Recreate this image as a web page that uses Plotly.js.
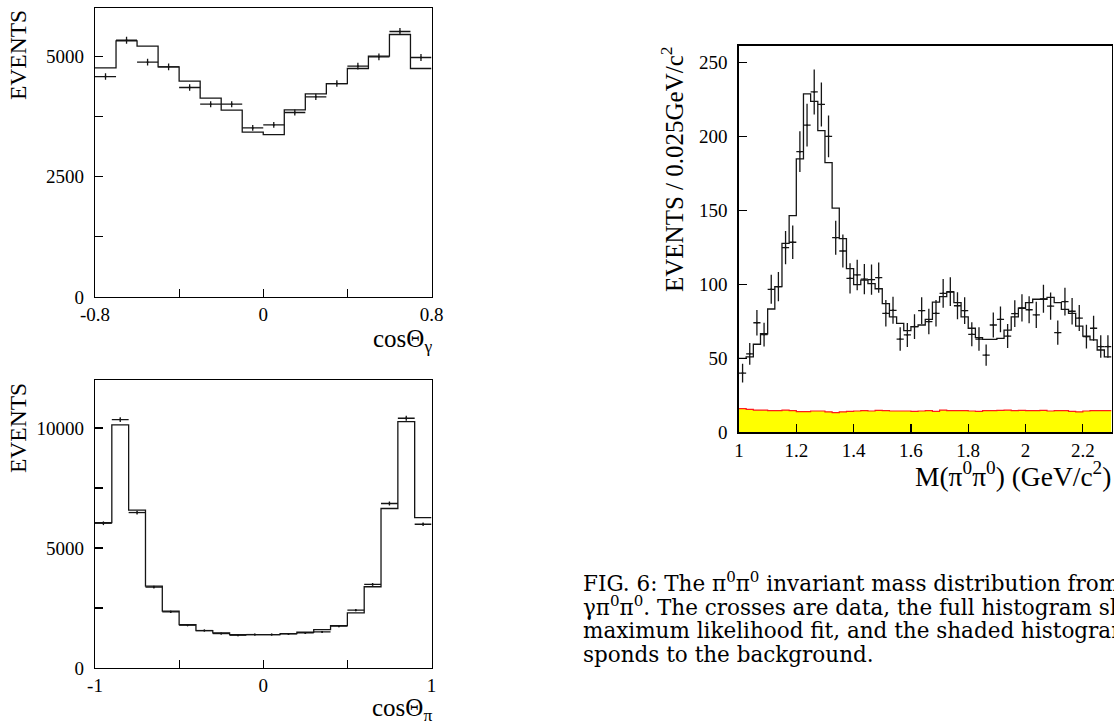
<!DOCTYPE html>
<html>
<head>
<meta charset="utf-8">
<script src="https://cdn.plot.ly/plotly-3.0.1.min.js"></script>
<style>
  html, body { margin: 0; padding: 0; background: #fff; overflow: hidden; }
  #chart { width: 1114px; height: 725px; }
</style>
</head>
<body>
<div id="chart"></div>
<script>
// ---------- Panel 1: cos(theta_gamma), 16 bins of 0.1 from -0.8 ----------
const cosGammaLo = -0.8;
const cosGammaBin = 0.1;
const cosGammaFit  = [4757, 5318, 5208, 4778, 4480, 4127, 3878, 3421, 3372, 3885, 4217, 4432, 4744, 5000, 5450, 4744];
const cosGammaData = [4577, 5330, 4875, 4778, 4349, 4003, 4003, 3511, 3573, 3830, 4155, 4432, 4792, 4986, 5512, 4972];
const cosGammaErr  = [68, 73, 70, 69, 66, 63, 63, 59, 60, 62, 64, 67, 69, 71, 74, 71];
const cosGammaTickVals = [-0.8, -0.4, 0, 0.4, 0.8];
const cosGammaTickText = ['-0.8', '', '0', '', '0.8'];
const cosGammaYTickVals = [0, 1250, 2500, 3750, 5000];
const cosGammaYTickText = ['0', '', '2500', '', '5000'];

// ---------- Panel 2: cos(theta_pi), 20 bins of 0.1 from -1 ----------
const cosPiLo = -1;
const cosPiBin = 0.1;
const cosPiFit  = [6059, 10127, 6575, 3413, 2368, 1811, 1560, 1463, 1393, 1393, 1393, 1435, 1490, 1602, 1769, 2298, 3385, 6645, 10266, 6269];
const cosPiData = [6031, 10350, 6477, 3371, 2340, 1783, 1560, 1435, 1365, 1393, 1393, 1421, 1463, 1504, 1741, 2410, 3483, 6854, 10406, 5990];
const cosPiErr  = [78, 102, 80, 58, 48, 42, 39, 38, 37, 37, 37, 38, 38, 39, 42, 49, 59, 83, 102, 77];
const cosPiTickVals = [-1, -0.5, 0, 0.5, 1];
const cosPiTickText = ['-1', '', '0', '', '1'];
const cosPiYTickVals = [0, 2500, 5000, 7500, 10000];
const cosPiYTickText = ['0', '', '5000', '', '10000'];

// ---------- Panel 3: M(pi0 pi0), 52 bins of 0.025 GeV from 1.0 ----------
const massLo = 1.0;
const massBin = 0.025;
const massFit = [50, 51, 59.5, 66.6, 83.3, 98.4, 127.7, 146.4, 184.7, 228.6, 223.6, 203.8, 182.2, 151.5, 130.8, 110.6, 99.8, 102.8, 100.4, 97,
                 87, 78, 73.6, 68.7, 71.4, 72.5, 76.3, 88, 91.6, 94.8, 87.6, 78, 70.3, 64, 62.8, 62.8, 63.5, 69, 78, 83.8,
                 87.6, 89.9, 89.9, 91.2, 87.6, 83, 80.4, 71.8, 65, 62.4, 55.6, 51];
const massData = [40, 53, 74, 66, 96.6, 98.4, 124.8, 128.4, 189.6, 207.5, 230, 221.5, 200, 131.5, 122.5, 104, 106.3, 103.5, 103.2, 104.5,
                  80.4, 82.4, 63, 65.8, 71.4, 82.2, 74.8, 80.4, 93.9, 95, 85.5, 82.2, 66.2, 63, 52.2, 72.5, 76.3, 65, 80.2, 84,
                  82.8, 79.3, 90.2, 85.3, 67.3, 88.3, 81.8, 77.2, 64.6, 70.3, 57.9, 57.9];
const massErr = [6.3, 7.3, 8.6, 8.1, 9.8, 9.9, 11.2, 11.3, 13.8, 14.4, 15.2, 14.9, 14.1, 11.5, 11.1, 10.2, 10.3, 10.2, 10.2, 10.2,
                 9, 9.1, 7.9, 8.1, 8.4, 9.1, 8.6, 9, 9.7, 9.7, 9.2, 9.1, 8.1, 7.9, 7.2, 8.5, 8.7, 8.1, 9, 9.2,
                 9.1, 8.9, 9.5, 9.2, 8.2, 9.4, 9, 8.8, 8, 8.4, 7.6, 7.6];
const massBkg = [16, 15.5, 15, 15, 14.6, 14.6, 15, 14.6, 14, 14, 14.4, 14.4, 13.8, 13.3, 13.8, 14.2, 14.4, 14.6, 14.4, 14.8,
                 14.6, 14.4, 14.4, 14.4, 14.2, 14.4, 14.6, 14.2, 15, 14.6, 14.6, 14.6, 14.4, 14.2, 14.6, 14.6, 14.8, 15, 14.6, 14.8,
                 14.6, 14.6, 14.8, 14.4, 14.6, 14.6, 14.2, 13.8, 14.4, 14.6, 14.6, 14.6];

// ---------- Caption ----------
const captionLines = [
  'FIG. 6: The π<sup>0</sup>π<sup>0</sup> invariant mass distribution from',
  'γπ<sup>0</sup>π<sup>0</sup>. The crosses are data, the full histogram shows the',
  'maximum likelihood fit, and the shaded histogram corre-',
  'sponds to the background.'
];

// ---------- helpers ----------
function binEdges(lo, w, n) { return Array.from({length: n + 1}, (_, i) => +(lo + w * i).toFixed(5)); }
function binCenters(lo, w, n) { return Array.from({length: n}, (_, i) => +(lo + w * (i + 0.5)).toFixed(5)); }
const INK = '#151515';

function stepTrace(lo, w, vals, xa, ya, extra) {
  const t = {
    type: 'scatter', mode: 'lines', xaxis: xa, yaxis: ya,
    x: binEdges(lo, w, vals.length), y: vals.concat([vals[vals.length - 1]]),
    line: {shape: 'hv', color: INK, width: 1.3}, hoverinfo: 'skip'
  };
  return Object.assign(t, extra || {});
}
function crossTrace(lo, w, vals, errs, xa, ya) {
  return {
    type: 'scatter', mode: 'markers', xaxis: xa, yaxis: ya,
    x: binCenters(lo, w, vals.length), y: vals,
    marker: {size: 2, color: INK},
    error_x: {type: 'constant', value: w / 2, width: 0, thickness: 1.3, color: INK},
    error_y: {type: 'data', array: errs, visible: true, width: 0, thickness: 1.3, color: INK},
    hoverinfo: 'skip'
  };
}

const traces = [
  stepTrace(cosGammaLo, cosGammaBin, cosGammaFit, 'x', 'y'),
  crossTrace(cosGammaLo, cosGammaBin, cosGammaData, cosGammaErr, 'x', 'y'),
  stepTrace(cosPiLo, cosPiBin, cosPiFit, 'x2', 'y2'),
  crossTrace(cosPiLo, cosPiBin, cosPiData, cosPiErr, 'x2', 'y2'),
  stepTrace(massLo, massBin, massBkg, 'x3', 'y3', {fill: 'tozeroy', fillcolor: '#ffff00', line: {shape: 'hv', color: '#ff1a1a', width: 1.2}}),
  stepTrace(massLo, massBin, massFit, 'x3', 'y3'),
  crossTrace(massLo, massBin, massData, massErr, 'x3', 'y3')
];

const W = 1114, H = 725;
const px = v => v / W;
const py = v => 1 - v / H;
const SERIF = 'Liberation Serif, Times New Roman, serif';
const tickFont = {family: SERIF, size: 19, color: '#000'};
const evFont = {family: SERIF, size: 23.5, color: '#000'};
const titleFont = {family: SERIF, size: 25, color: '#000'};
const capFont = {family: 'DejaVu Serif, serif', size: 21.5, color: '#000'};

function axis(extra) {
  return Object.assign({
    showline: true, linecolor: '#000', linewidth: 1.2, mirror: true,
    ticks: 'inside', ticklen: 8, tickwidth: 1.2, tickcolor: '#000',
    showgrid: false, zeroline: false, tickfont: tickFont, fixedrange: true
  }, extra);
}

const layout = {
  width: W, height: H,
  margin: {l: 0, r: 0, t: 0, b: 0},
  paper_bgcolor: '#fff', plot_bgcolor: '#fff',
  showlegend: false,
  xaxis:  axis({domain: [px(95), px(431.5)], range: [cosGammaLo, 0.8], anchor: 'y', tickmode: 'array', tickvals: cosGammaTickVals, ticktext: cosGammaTickText}),
  yaxis:  axis({domain: [py(297), py(8)], range: [0, 6000], anchor: 'x', tickmode: 'array', tickvals: cosGammaYTickVals, ticktext: cosGammaYTickText, ticklabelstandoff: 6}),
  xaxis2: axis({domain: [px(95), px(431.5)], range: [cosPiLo, 1], anchor: 'y2', tickmode: 'array', tickvals: cosPiTickVals, ticktext: cosPiTickText}),
  yaxis2: axis({domain: [py(668), py(380)], range: [0, 12000], anchor: 'x2', tickmode: 'array', tickvals: cosPiYTickVals, ticktext: cosPiYTickText, ticklabelstandoff: 6}),
  xaxis3: axis({domain: [px(739), px(1111.5)], range: [massLo, 2.3], anchor: 'y3', tickmode: 'linear', tick0: 1, dtick: 0.2, linewidth: 1.6}),
  yaxis3: axis({domain: [py(432.3), py(46)], range: [0, 261], anchor: 'x3', tickmode: 'linear', tick0: 0, dtick: 50, linewidth: 1.6, ticklabelstandoff: 6}),
  annotations: [
    {text: 'EVENTS', xref: 'paper', yref: 'paper', x: px(18), y: py(8), xanchor: 'center', yanchor: 'top', textangle: -90, showarrow: false, font: evFont},
    {text: 'EVENTS', xref: 'paper', yref: 'paper', x: px(18), y: py(381), xanchor: 'center', yanchor: 'top', textangle: -90, showarrow: false, font: evFont},
    {text: 'EVENTS / 0.025GeV/c<sup>2</sup>', xref: 'paper', yref: 'paper', x: px(672), y: py(44), xanchor: 'center', yanchor: 'top', textangle: -90, showarrow: false, font: titleFont},
    {text: 'cosΘ<sub>γ</sub>', xref: 'paper', yref: 'paper', x: px(434), y: py(323), xanchor: 'right', yanchor: 'top', showarrow: false, font: titleFont},
    {text: 'cosΘ<sub>π</sub>', xref: 'paper', yref: 'paper', x: px(434), y: py(692), xanchor: 'right', yanchor: 'top', showarrow: false, font: titleFont},
    {text: 'M(π<sup>0</sup>π<sup>0</sup>) (GeV/c<sup>2</sup>)', xref: 'paper', yref: 'paper', x: px(1113), y: py(455), xanchor: 'right', yanchor: 'top', showarrow: false, font: {family: SERIF, size: 27.5, color: '#000'}}
  ].concat(captionLines.map((t, i) => ({
    text: t, xref: 'paper', yref: 'paper', x: px(581), y: py(582 + 24.3 * i), xanchor: 'left', yanchor: 'middle',
    showarrow: false, font: capFont, align: 'left'
  })))
};

Plotly.newPlot('chart', traces, layout, {staticPlot: true, displayModeBar: false});
</script>
</body>
</html>
